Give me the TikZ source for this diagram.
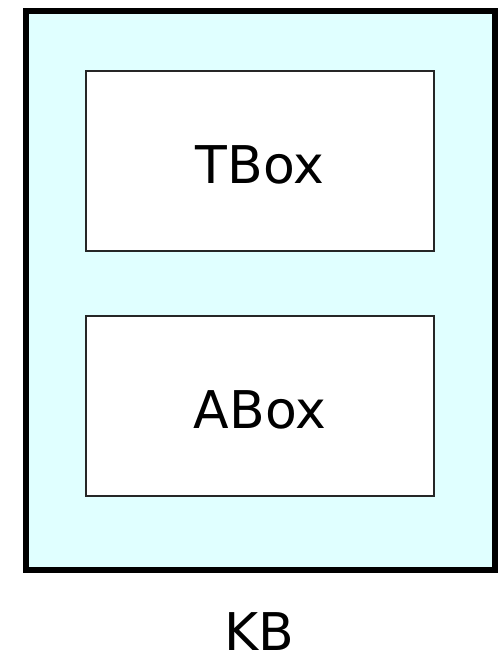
\documentclass[tikz,border=0pt]{standalone}
\usepackage{fontspec}
\setmainfont{DejaVu Sans}
\usetikzlibrary{positioning}
\definecolor{kbfill}{HTML}{E0FFFF}
\begin{document}
\begin{tikzpicture}[x=1pt, y=1pt, font=\fontsize{52}{58}\selectfont,
    inner sep=0pt, boxpart/.style={draw=black!85, line width=1.8pt, fill=white,
      minimum width=348pt, minimum height=180pt, text height=46pt}]
  \useasboundingbox (0,0) rectangle (499,-661);
  \node[draw, line width=6pt, fill=kbfill, minimum width=469pt,
    minimum height=559pt] (kb) at (260.5,-290.5) {};
  \node[boxpart] (tbox) at (260,-161) {TBox};
  \node[boxpart] (abox) [below = 63pt of tbox] {ABox};
  \node[anchor=base] (kblabel) at (259,-650) {KB};
\end{tikzpicture}
\end{document}
